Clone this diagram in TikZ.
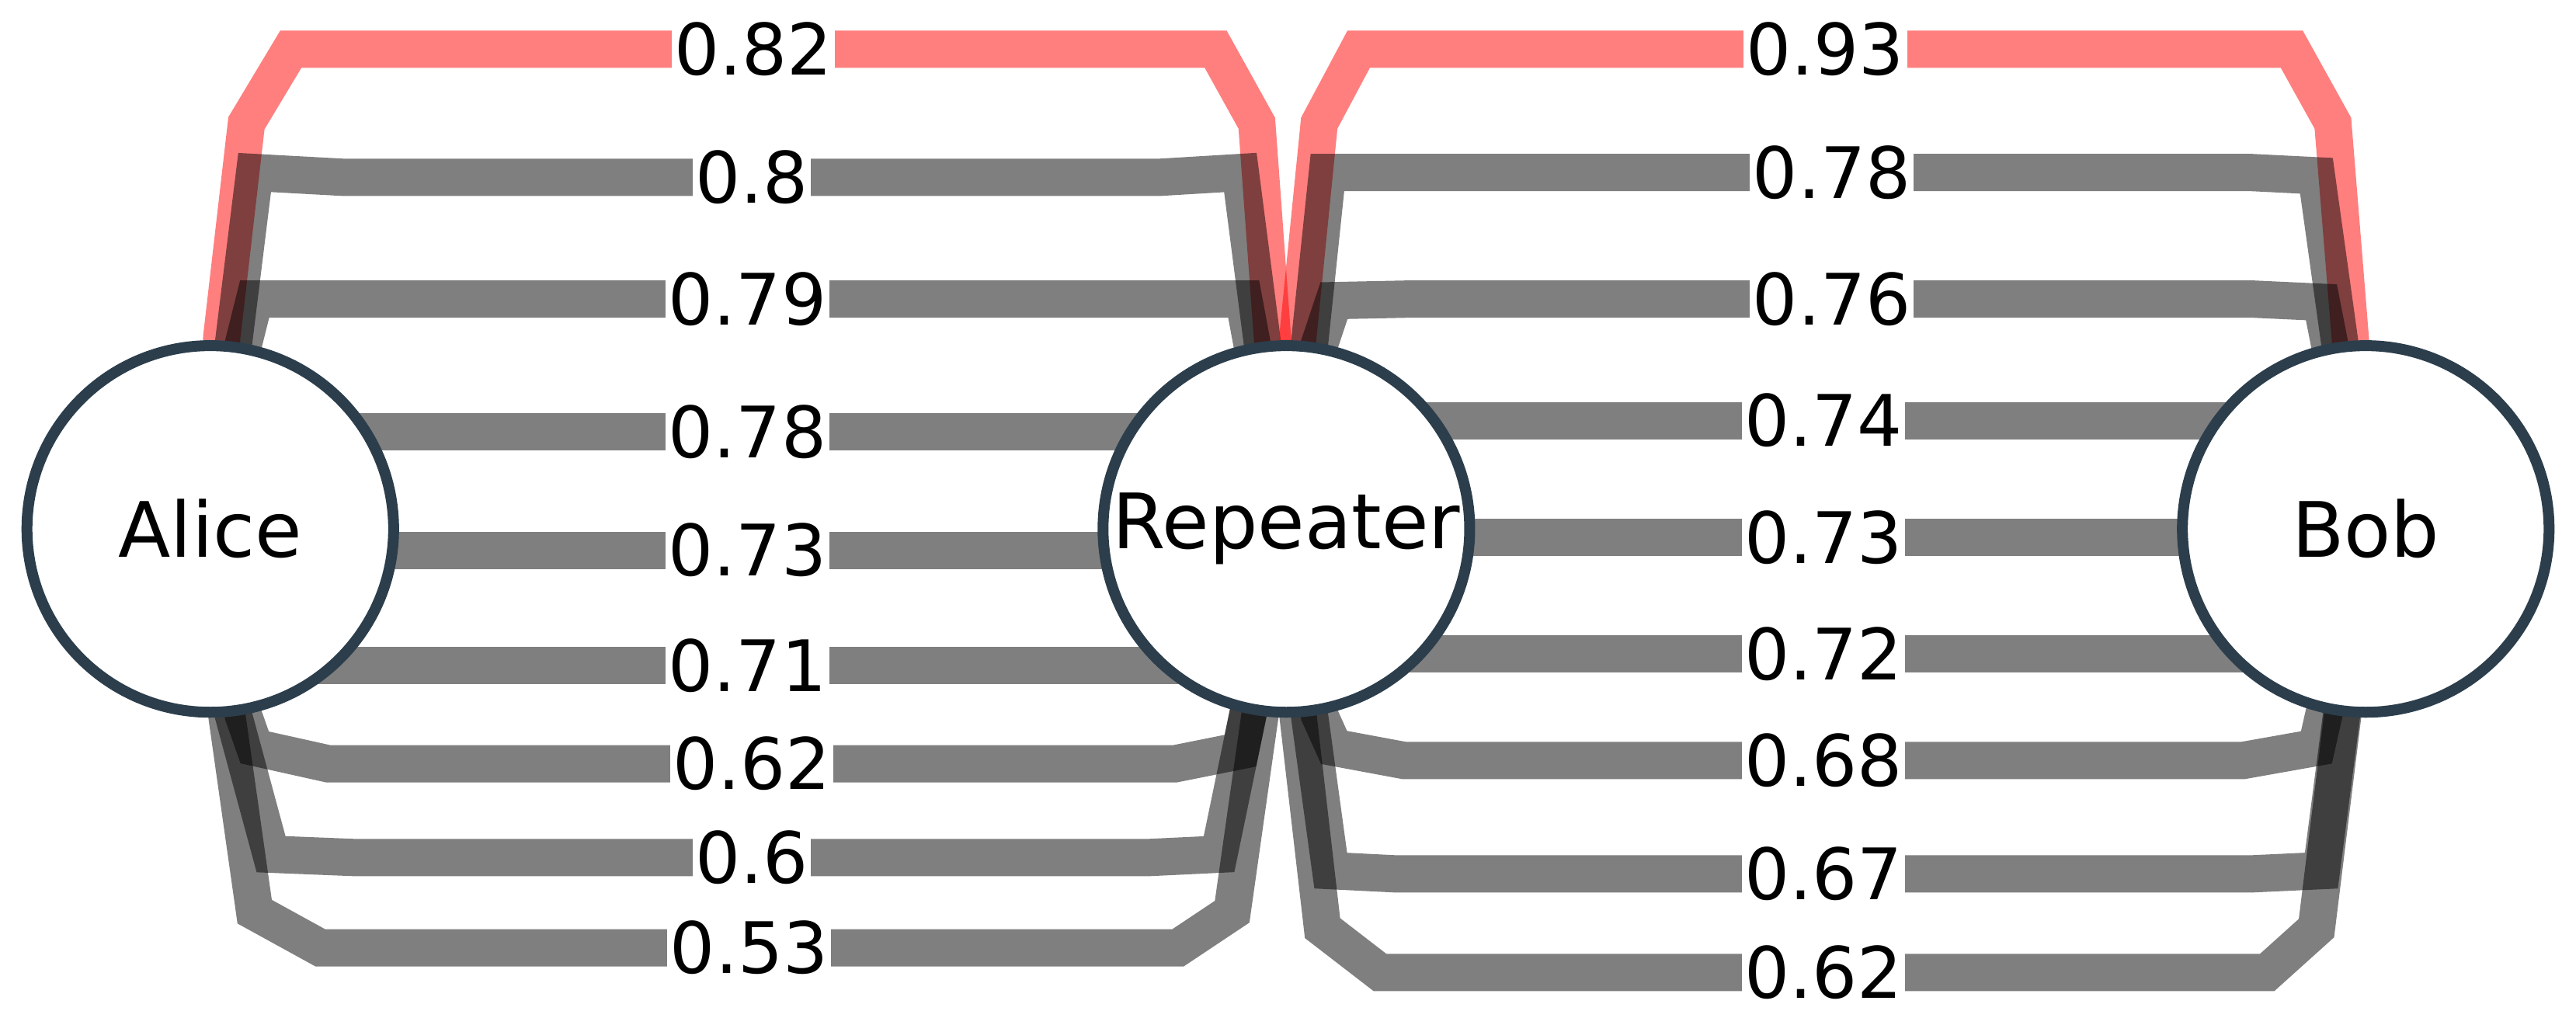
\documentclass[tikz,border=0pt]{standalone}
\usepackage{fontspec}
\setmainfont{DejaVu Sans}
\pgfdeclarelayer{bg}\pgfsetlayers{bg,main}
\definecolor{ncol}{HTML}{2C3E4C}
\tikzset{
 nd/.style={circle,draw=ncol,line width=0.14cm,fill=white,minimum size=4.72cm,inner sep=0pt,font=\fontsize{28}{32}\selectfont},
 e/.style={line width=0.48cm,draw=black,draw opacity=0.5,line join=miter},
 r/.style={e,draw=red},
 lab/.style={fill=white,inner sep=1pt,font=\fontsize{26}{30}\selectfont,text opacity=1,fill opacity=1}
}
\begin{document}
\begin{tikzpicture}[x=0.02115cm,y=-0.02115cm]
\useasboundingbox (0,0) rectangle (1568,623.6);
\node[nd] (A) at (128,322) {Alice};
\node[nd] (R) at (783,322) {Repeater};
\node[nd] (B) at (1440,322) {Bob};
\begin{pgfonlayer}{bg}
% Alice - Repeater
\draw[r] (A.center) -- (135,205) -- (150,75) -- (177,30) -- node[lab]{0.82} (740,30) -- (765,75) -- (R.center);
\draw[e] (A.center) -- (142,210) -- (155,105) -- (210,108) -- node[lab]{0.8} (705,108) -- (755,105) -- (R.center);
\draw[e] (A.center) -- (148,210) -- (155,182) -- (200,182) -- node[lab]{0.79} (710,182) -- (757,182) -- (R.center);
\draw[e] (A.center) |- (300,263) -- node[lab]{0.78} (610,263) -| (R.center);
\draw[e] (A.center) |- (300,335) -- node[lab]{0.73} (610,335) -| (R.center);
\draw[e] (A.center) |- (300,405) -- node[lab]{0.71} (610,405) -| (R.center);
\draw[e] (A.center) -- (148,435) -- (155,455) -- (200,465) -- node[lab]{0.62} (715,465) -- (755,457) -- (R.center);
\draw[e] (A.center) -- (142,435) -- (165,520) -- (215,522) -- node[lab]{0.6} (700,522) -- (742,520) -- (R.center);
\draw[e] (A.center) -- (138,435) -- (155,555) -- (195,577) -- node[lab]{0.53} (717,577) -- (750,555) -- (R.center);
% Repeater - Bob
\draw[r] (R.center) -- (790,205) -- (803,75) -- (827,30) -- node[lab]{0.93} (1395,30) -- (1420,75) -- (B.center);
\draw[e] (R.center) -- (797,210) -- (808,105) -- (860,105) -- node[lab]{0.78} (1370,105) -- (1410,107) -- (B.center);
\draw[e] (R.center) -- (803,210) -- (812,183) -- (860,182) -- node[lab]{0.76} (1370,182) -- (1413,184) -- (B.center);
\draw[e] (R.center) |- (950,256) -- node[lab]{0.74} (1270,256) -| (B.center);
\draw[e] (R.center) |- (950,327) -- node[lab]{0.73} (1270,327) -| (B.center);
\draw[e] (R.center) |- (950,398) -- node[lab]{0.72} (1270,398) -| (B.center);
\draw[e] (R.center) -- (803,435) -- (812,455) -- (855,463) -- node[lab]{0.68} (1365,463) -- (1410,455) -- (B.center);
\draw[e] (R.center) -- (797,435) -- (810,530) -- (850,532) -- node[lab]{0.67} (1370,532) -- (1413,530) -- (B.center);
\draw[e] (R.center) -- (790,435) -- (805,565) -- (840,592) -- node[lab]{0.62} (1380,592) -- (1410,565) -- (B.center);
\end{pgfonlayer}
\end{tikzpicture}
\end{document}
